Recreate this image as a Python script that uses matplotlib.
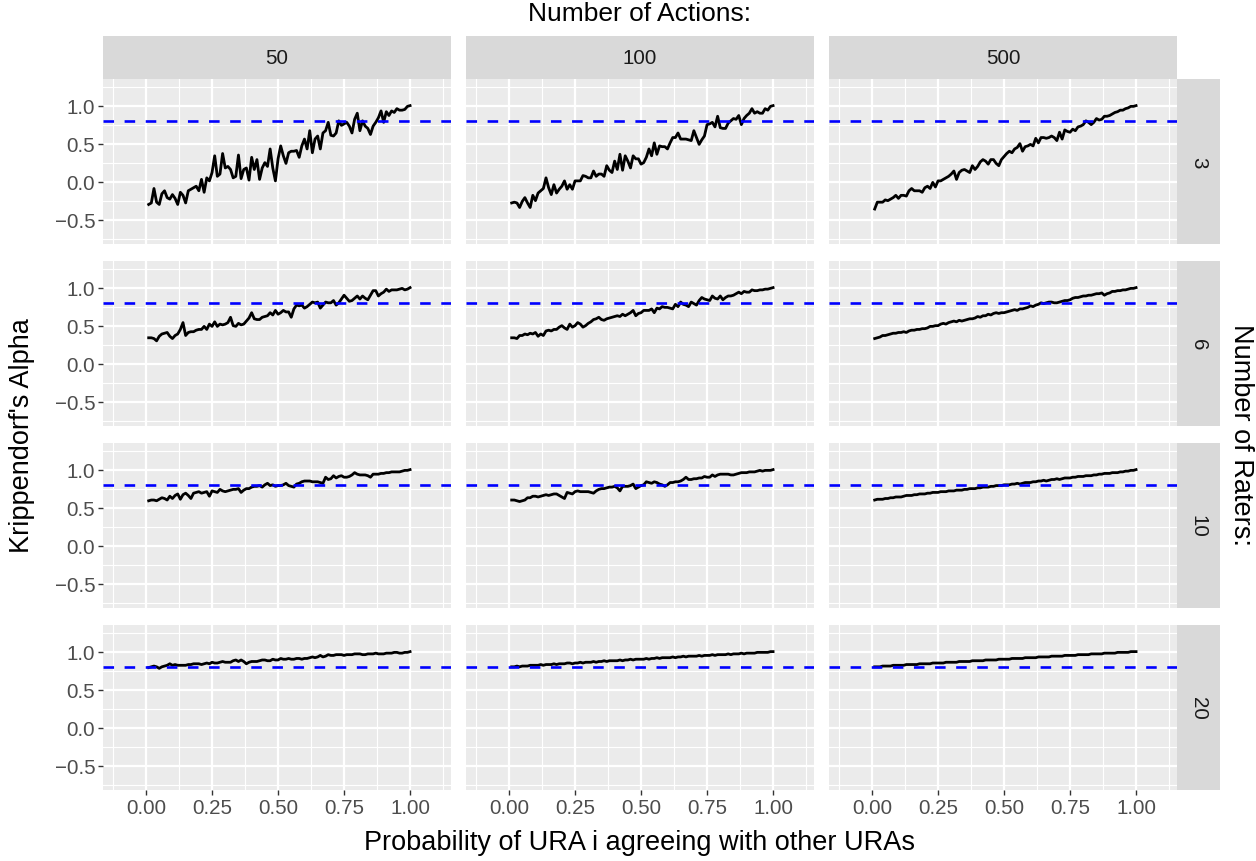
import numpy as np
import matplotlib
matplotlib.use("Agg")
import matplotlib.pyplot as plt

plt.rcParams['font.family'] = ['Liberation Sans', 'DejaVu Sans']

# facet levels
actions = [50, 100, 500]
raters = [3, 6, 10, 20]
x = np.arange(1, 101) / 100.0   # probability grid 0.01 .. 1.00
threshold = 0.8

# Krippendorff's alpha, one list per (raters, actions) panel
s3_50 = [-.30, -.28, -.09, -.27, -.30, -.16, -.12, -.21, -.23, -.17,
         -.22, -.30, -.14, -.18, -.28, -.12, -.10, -.08, -.06, -.12,
         .03, -.14, .05, .01, .12, .34, .07, .10, .37, .18,
         .20, .16, .05, .07, .35, .04, .16, .18, .02, .32,
         .16, .29, .03, .18, .25, .20, .43, .18, .01, .30,
         .47, .34, .24, .38, .40, .40, .41, .32, .47, .56,
         .43, .67, .38, .56, .60, .43, .64, .67, .78, .61,
         .60, .64, .80, .74, .76, .78, .73, .64, .82, .90,
         .67, .80, .73, .70, .62, .73, .78, .84, .93, .78,
         .92, .87, .93, .91, .96, .94, .94, .95, .99, 1.00]
s3_100 = [-.28, -.27, -.28, -.34, -.26, -.21, -.28, -.34, -.18, -.25,
          -.15, -.12, -.09, .05, -.08, -.17, -.04, -.15, -.10, -.06,
          .01, -.10, -.04, -.10, .01, .01, .01, .08, .07, .05,
          .05, .14, .07, .10, .10, .07, .21, .15, .12, .27,
          .16, .36, .15, .34, .27, .18, .34, .30, .30, .23,
          .25, .32, .43, .34, .51, .36, .47, .46, .46, .43,
          .51, .58, .58, .64, .56, .56, .56, .55, .54, .67,
          .58, .49, .55, .60, .75, .76, .78, .72, .86, .71,
          .70, .70, .77, .80, .83, .82, .87, .75, .83, .87,
          .90, .96, .90, .92, .90, .90, .96, .94, .99, 1.00]
s3_500 = [-.36, -.27, -.27, -.27, -.24, -.25, -.23, -.21, -.18, -.22,
          -.18, -.18, -.19, -.12, -.09, -.12, -.12, -.12, -.14, -.08,
          -.06, -.09, -.01, -.07, .01, .01, .03, .05, .07, .10,
          .14, .03, .12, .15, .16, .14, .12, .21, .16, .20,
          .26, .29, .27, .23, .29, .29, .24, .21, .29, .33,
          .37, .40, .38, .43, .45, .50, .40, .46, .47, .49,
          .47, .57, .51, .58, .58, .57, .58, .60, .58, .54,
          .65, .56, .68, .66, .65, .69, .67, .72, .73, .75,
          .80, .78, .75, .78, .83, .81, .82, .86, .86, .87,
          .89, .91, .92, .94, .94, .96, .97, .99, .99, 1.00]
s6_50 = [.34, .34, .33, .30, .36, .39, .40, .41, .36, .33,
         .37, .39, .45, .54, .37, .41, .42, .42, .44, .45,
         .45, .49, .45, .52, .49, .55, .49, .52, .51, .52,
         .54, .61, .50, .49, .53, .51, .52, .56, .60, .67,
         .59, .58, .58, .61, .62, .63, .67, .64, .70, .65,
         .67, .70, .68, .68, .61, .72, .77, .76, .77, .73,
         .75, .78, .81, .80, .81, .73, .77, .81, .80, .80,
         .83, .77, .80, .85, .90, .86, .82, .83, .86, .89,
         .85, .89, .86, .84, .90, .96, .96, .89, .92, .94,
         .98, .95, .97, .97, .97, .98, .99, .97, .98, 1.00]
s6_100 = [.34, .34, .33, .37, .37, .39, .38, .40, .39, .41,
          .36, .39, .37, .43, .44, .43, .45, .45, .48, .50,
          .47, .45, .52, .48, .50, .54, .52, .48, .50, .53,
          .55, .58, .59, .61, .58, .57, .59, .60, .61, .62,
          .63, .62, .65, .63, .65, .67, .70, .63, .66, .67,
          .70, .70, .70, .72, .67, .73, .72, .75, .74, .74,
          .73, .72, .78, .75, .81, .78, .77, .75, .81, .79,
          .77, .83, .87, .85, .84, .83, .89, .86, .85, .89,
          .84, .87, .89, .89, .90, .92, .94, .92, .95, .94,
          .94, .97, .96, .96, .97, .97, .98, .98, .99, 1.00]
s6_500 = [.33, .34, .35, .37, .37, .38, .39, .40, .40, .41,
          .41, .42, .41, .43, .44, .44, .45, .45, .46, .46,
          .47, .49, .49, .50, .50, .52, .53, .52, .54, .55,
          .56, .55, .57, .56, .57, .58, .59, .59, .60, .62,
          .61, .63, .63, .65, .64, .66, .67, .66, .67, .67,
          .68, .69, .70, .71, .70, .72, .72, .73, .74, .76,
          .75, .77, .78, .80, .79, .80, .81, .81, .80, .80,
          .81, .82, .83, .83, .84, .86, .87, .87, .88, .89,
          .89, .90, .90, .91, .92, .92, .93, .90, .92, .93,
          .95, .95, .96, .96, .97, .97, .98, .99, .99, 1.00]
s10_50 = [.59, .60, .60, .59, .61, .63, .62, .60, .65, .62,
          .66, .68, .61, .67, .69, .66, .62, .69, .70, .71,
          .69, .70, .71, .65, .72, .71, .70, .74, .72, .71,
          .72, .73, .74, .74, .75, .70, .73, .75, .75, .77,
          .78, .78, .79, .77, .80, .82, .79, .80, .78, .79,
          .79, .80, .82, .79, .78, .77, .81, .82, .84, .85,
          .85, .85, .84, .84, .84, .83, .82, .90, .87, .88,
          .92, .89, .91, .92, .90, .90, .91, .93, .96, .94,
          .93, .93, .93, .92, .90, .94, .94, .94, .95, .95,
          .96, .96, .97, .97, .97, .97, .98, .99, .99, 1.00]
s10_100 = [.60, .60, .59, .58, .59, .60, .63, .63, .65, .65,
           .64, .65, .66, .67, .66, .67, .68, .68, .66, .64,
           .62, .70, .69, .68, .71, .72, .71, .71, .71, .71,
           .70, .69, .72, .74, .75, .75, .76, .77, .77, .78,
           .76, .72, .78, .78, .78, .79, .81, .75, .77, .79,
           .80, .84, .83, .82, .84, .83, .81, .80, .78, .80,
           .83, .83, .84, .84, .85, .87, .90, .87, .87, .88,
           .88, .89, .89, .91, .90, .90, .93, .91, .93, .94,
           .94, .94, .94, .93, .93, .94, .95, .96, .96, .96,
           .97, .97, .97, .98, .99, .98, .99, .99, .99, 1.00]
s10_500 = [.60, .61, .61, .61, .62, .62, .63, .63, .64, .64,
           .64, .65, .66, .66, .66, .67, .67, .68, .68, .68,
           .69, .69, .70, .70, .70, .71, .71, .71, .72, .72,
           .72, .73, .73, .73, .74, .74, .75, .75, .75, .76,
           .76, .77, .77, .77, .78, .78, .79, .79, .79, .80,
           .80, .80, .81, .81, .82, .81, .82, .83, .83, .83,
           .84, .84, .85, .85, .86, .85, .86, .87, .87, .88,
           .87, .88, .89, .89, .89, .90, .90, .91, .91, .91,
           .92, .92, .92, .93, .93, .94, .94, .95, .95, .95,
           .96, .96, .96, .97, .97, .98, .98, .99, .99, 1.00]
s20_50 = [.79, .80, .81, .80, .78, .80, .81, .82, .84, .82,
          .83, .82, .82, .82, .82, .83, .83, .84, .84, .84,
          .83, .84, .85, .84, .86, .85, .85, .86, .87, .86,
          .86, .86, .88, .89, .87, .89, .87, .84, .86, .87,
          .87, .87, .88, .89, .89, .88, .88, .90, .89, .89,
          .91, .90, .90, .91, .90, .90, .91, .91, .90, .91,
          .91, .92, .93, .92, .93, .95, .93, .94, .96, .95,
          .95, .96, .96, .96, .95, .96, .96, .96, .97, .97,
          .97, .96, .96, .97, .97, .97, .98, .97, .97, .97,
          .98, .98, .98, .99, .99, .98, .98, .99, .99, 1.00]
s20_100 = [.80, .80, .81, .80, .81, .81, .81, .82, .82, .82,
           .82, .83, .82, .83, .83, .83, .84, .83, .84, .84,
           .84, .85, .85, .84, .85, .85, .86, .85, .86, .86,
           .86, .87, .86, .87, .87, .88, .87, .88, .88, .88,
           .88, .89, .88, .89, .89, .90, .89, .90, .90, .90,
           .90, .91, .90, .91, .91, .92, .91, .92, .92, .92,
           .92, .93, .92, .93, .93, .94, .93, .94, .94, .94,
           .94, .95, .94, .95, .95, .95, .96, .95, .96, .96,
           .96, .96, .97, .96, .97, .97, .97, .98, .97, .98,
           .98, .98, .98, .99, .99, .99, .99, .99, 1.00, 1.00]
s20_500 = [.80, .80, .80, .81, .81, .81, .81, .82, .82, .82,
           .82, .82, .83, .83, .83, .83, .83, .84, .84, .84,
           .84, .84, .85, .85, .85, .85, .85, .86, .86, .86,
           .86, .86, .87, .87, .87, .87, .87, .88, .88, .88,
           .88, .88, .89, .89, .89, .89, .89, .90, .90, .90,
           .90, .90, .91, .91, .91, .91, .91, .92, .92, .92,
           .92, .92, .93, .93, .93, .93, .93, .94, .94, .94,
           .94, .94, .95, .95, .95, .95, .95, .96, .96, .96,
           .96, .96, .97, .97, .97, .97, .97, .98, .98, .98,
           .98, .98, .99, .99, .99, .99, .99, 1.00, 1.00, 1.00]

series = {
    (3, 50): s3_50, (3, 100): s3_100, (3, 500): s3_500,
    (6, 50): s6_50, (6, 100): s6_100, (6, 500): s6_500,
    (10, 50): s10_50, (10, 100): s10_100, (10, 500): s10_500,
    (20, 50): s20_50, (20, 100): s20_100, (20, 500): s20_500,
}

W, H = 1256, 862
fig = plt.figure(figsize=(W / 100, H / 100), dpi=100)
fig.patch.set_facecolor("white")

def px_axes(left, top, width, height, **kw):
    return fig.add_axes([left / W, 1 - (top + height) / H, width / W, height / H], **kw)

col_left = [103, 466, 829]
row_top = [80, 262, 444, 626]
pw, ph = 348, 165
strip = 43

xmaj = [0, 0.25, 0.5, 0.75, 1.0]
xmin = [-0.125, 0.125, 0.375, 0.625, 0.875, 1.125]
ymaj = [-0.5, 0.0, 0.5, 1.0]
ymin = [-0.75, -0.25, 0.25, 0.75, 1.25]
tick_col = "#4D4D4D"

for i, r in enumerate(raters):
    for j, a in enumerate(actions):
        ax = px_axes(col_left[j], row_top[i], pw, ph)
        ax.set_facecolor("#EBEBEB")
        for v in xmin:
            ax.axvline(v, color="white", lw=0.8, zorder=0)
        for v in ymin:
            ax.axhline(v, color="white", lw=0.8, zorder=0)
        for v in xmaj:
            ax.axvline(v, color="white", lw=1.6, zorder=0)
        for v in ymaj:
            ax.axhline(v, color="white", lw=1.6, zorder=0)
        ax.plot(x, series[(r, a)], color="black", lw=2.0, zorder=3)
        ax.axhline(threshold, color="blue", lw=1.9, dashes=(4, 4), zorder=4)
        ax.set_xlim(-0.163, 1.155)
        ax.set_ylim(-0.82, 1.35)
        for s in ax.spines.values():
            s.set_visible(False)
        ax.set_xticks(xmaj)
        ax.set_yticks(ymaj)
        ax.tick_params(length=3.6, width=1.0, color="#333333", pad=2,
                       labelsize=14.8, labelcolor=tick_col)
        if j == 0:
            ax.set_yticklabels(["\u22120.5", "0.0", "0.5", "1.0"])
        else:
            ax.tick_params(axis="y", left=False, labelleft=False)
        if i == len(raters) - 1:
            ax.set_xticklabels(["0.00", "0.25", "0.50", "0.75", "1.00"])
        else:
            ax.tick_params(axis="x", bottom=False, labelbottom=False)

    # row strip on the right
    sax = px_axes(col_left[-1] + pw, row_top[i], strip, ph)
    sax.set_facecolor("#D9D9D9")
    sax.set_xticks([]); sax.set_yticks([])
    for s in sax.spines.values():
        s.set_visible(False)
    sax.text(0.5, 0.5, str(r), rotation=-90, ha="center", va="center",
             fontsize=14.8, color="#1A1A1A", transform=sax.transAxes)

# column strips on top
for j, a in enumerate(actions):
    sax = px_axes(col_left[j], row_top[0] - strip, pw, strip)
    sax.set_facecolor("#D9D9D9")
    sax.set_xticks([]); sax.set_yticks([])
    for s in sax.spines.values():
        s.set_visible(False)
    sax.text(0.5, 0.5, str(a), ha="center", va="center",
             fontsize=14.8, color="#1A1A1A", transform=sax.transAxes)

cx = (col_left[0] + col_left[-1] + pw) / 2 / W
cy = 1 - (row_top[0] + row_top[-1] + ph) / 2 / H
fig.text(cx, 1 - 14 / H, "Number of Actions:", ha="center", va="center", fontsize=19)
fig.text(cx, 1 - 843 / H, "Probability of URA i agreeing with other URAs",
         ha="center", va="center", fontsize=19.5)
fig.text(22 / W, cy, "Krippendorf's Alpha", rotation=90, ha="center", va="center",
         fontsize=19.5)
fig.text(1241 / W, cy, "Number of Raters:", rotation=-90, ha="center", va="center",
         fontsize=19.5)

fig.savefig("out.png", dpi=100)
